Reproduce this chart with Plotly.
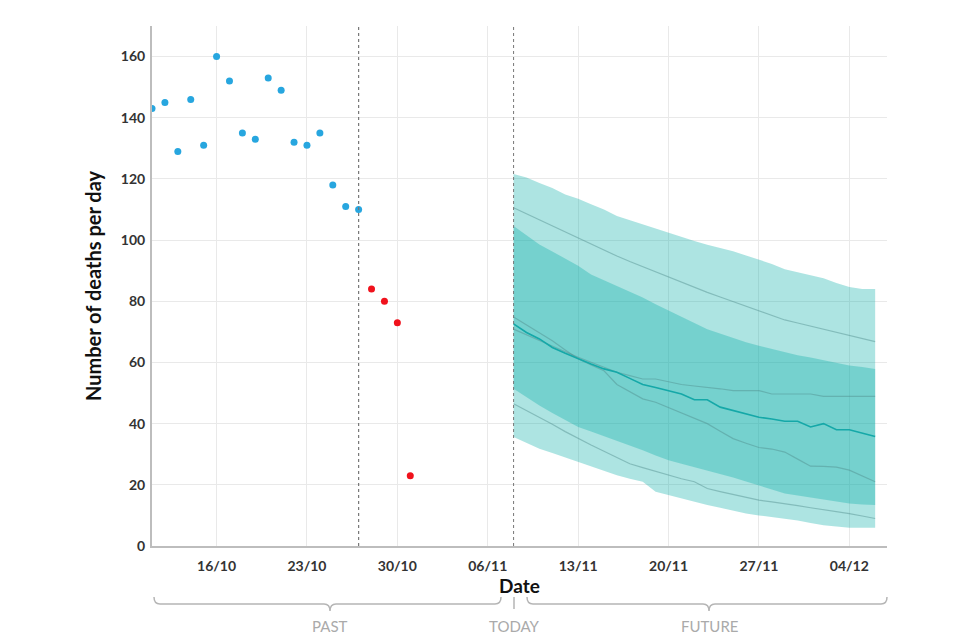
import pandas as pd
import plotly.graph_objects as go

# ---------------- data ----------------
observed_start = "2020-10-11"
observed_values = [143, 145, 129, 146, 131, 160, 152, 135, 133, 153, 149, 132, 131, 135, 118, 111, 110]
incomplete_start = "2020-10-28"
incomplete_values = [84, 80, 73, 23]

forecast_start = "2020-11-08"
outer_upper = [121.6, 120.5, 118.7, 117.0, 114.9, 113.5, 111.7, 110.0, 107.9, 106.5, 105.2, 103.8, 102.4, 101.0,
               99.7, 98.5, 97.5, 96.4, 95.0, 93.7, 92.2, 90.5, 89.5, 88.5, 87.5, 86.0, 84.7, 84.0, 84.0]
outer_lower = [35.6, 33.7, 31.8, 30.4, 28.9, 27.5, 26.0, 24.6, 23.1, 22.0, 21.0, 17.7, 16.6, 15.5,
               14.4, 13.4, 12.5, 11.5, 10.6, 10.0, 9.5, 9.0, 8.3, 7.5, 6.8, 6.4, 6.0, 6.0, 6.0]
inner_upper = [104.6, 101.6, 98.6, 96.3, 93.9, 91.6, 88.8, 86.9, 85.0, 83.1, 81.2, 79.0, 76.9, 74.9,
               72.9, 70.9, 69.5, 68.0, 66.6, 65.5, 64.4, 63.3, 62.4, 61.6, 60.7, 59.9, 59.0, 58.5, 57.9]
inner_lower = [51.4, 48.6, 45.9, 43.5, 41.2, 38.9, 37.4, 35.9, 34.5, 32.9, 31.3, 29.6, 28.0, 26.9,
               25.8, 24.8, 23.6, 22.4, 21.1, 19.9, 18.5, 17.2, 16.5, 15.8, 15.1, 14.5, 13.9, 13.6, 13.4]
line_upper = [110.6, 108.6, 106.6, 104.7, 102.7, 100.8, 98.8, 96.8, 94.8, 93.0, 91.3, 89.5, 87.8, 86.2,
              84.5, 82.9, 81.4, 79.9, 78.4, 76.9, 75.4, 73.9, 72.9, 71.9, 70.9, 69.8, 68.8, 67.8, 66.8]
line_lower = [46.5, 44.3, 42.1, 39.8, 37.4, 35.1, 33.0, 31.0, 28.9, 26.9, 25.6, 24.4, 23.1, 22.0,
              21.0, 18.8, 17.8, 16.9, 15.9, 15.0, 14.4, 13.9, 13.2, 12.5, 11.9, 11.2, 10.6, 9.8, 9.0]
line_a = [74.9, 72.3, 69.7, 67.1, 64.1, 61.2, 59.2, 57.3, 52.8, 50.4, 48.1, 47.0, 45.2, 43.4,
          41.6, 40.0, 37.5, 35.1, 33.6, 32.2, 31.7, 30.7, 28.4, 26.1, 26.0, 25.8, 24.8, 22.9, 21.0]
line_b = [70.9, 69.0, 67.2, 65.3, 63.5, 61.7, 60.1, 58.4, 56.8, 55.7, 54.6, 54.6, 53.7, 52.8,
          52.3, 51.9, 51.4, 50.8, 50.8, 50.8, 49.7, 49.7, 49.7, 49.7, 48.9, 48.9, 48.9, 48.9, 48.9]
median = [72.6, 69.8, 67.7, 64.9, 63.0, 61.2, 59.5, 57.9, 56.8, 54.8, 52.8, 51.8, 50.8, 49.7,
          47.8, 47.8, 45.4, 44.3, 43.2, 42.1, 41.5, 40.8, 40.8, 38.9, 40.0, 38.0, 38.0, 36.9, 35.8]

cutoff_date = "2020-10-27"
today_date = "2020-11-08"
x_range = ["2020-10-11", "2020-12-06 22:00"]
tick_start = "2020-10-16"
y_range = [0, 170]
section_labels = ["PAST", "TODAY", "FUTURE"]

# ---------------- build ----------------
obs_x = pd.date_range(observed_start, periods=len(observed_values), freq="D")
inc_x = pd.date_range(incomplete_start, periods=len(incomplete_values), freq="D")
fc_x = pd.date_range(forecast_start, periods=len(median), freq="D")

band = "rgba(0,170,165,0.32)"
grey_line = "rgba(80,140,140,0.45)"

fig = go.Figure()

def add_band(lo, hi):
    fig.add_trace(go.Scatter(x=fc_x, y=lo, mode="lines", line=dict(width=0), showlegend=False, hoverinfo="skip"))
    fig.add_trace(go.Scatter(x=fc_x, y=hi, mode="lines", line=dict(width=0), fill="tonexty",
                             fillcolor=band, showlegend=False, hoverinfo="skip"))

add_band(outer_lower, outer_upper)
add_band(inner_lower, inner_upper)

for series in (line_upper, line_lower, line_a, line_b):
    fig.add_trace(go.Scatter(x=fc_x, y=series, mode="lines", line=dict(color=grey_line, width=1.2),
                             showlegend=False))
fig.add_trace(go.Scatter(x=fc_x, y=median, mode="lines", line=dict(color="#15a8a8", width=1.6),
                         showlegend=False))

fig.add_trace(go.Scatter(x=obs_x, y=observed_values, mode="markers",
                         marker=dict(color="#27a6df", size=7), showlegend=False))
fig.add_trace(go.Scatter(x=inc_x, y=incomplete_values, mode="markers",
                         marker=dict(color="#f0121c", size=7), showlegend=False))

# vertical reference lines
fig.add_shape(type="line", xref="x", yref="paper", x0=cutoff_date, x1=cutoff_date, y0=0, y1=1,
              line=dict(color="#777", width=1.2, dash="dot"))
fig.add_shape(type="line", xref="x", yref="paper", x0=today_date, x1=today_date, y0=0, y1=1,
              line=dict(color="#777", width=1, dash="dot"))

# plot area in page pixels (page has an 8px body margin)
L, R, T, B = 152, 887, 26, 546
OFF = 8
def px(x):
    return (x - L) / (R - L)
def py(y):
    return (B - y) / (B - T)

def bracket(x0, x1, xc, ytop=597, yh=604, ybot=611, r=6):
    p = (f"M {px(x0)},{py(ytop)} Q {px(x0)},{py(yh)} {px(x0 + r)},{py(yh)} "
         f"L {px(xc - r)},{py(yh)} Q {px(xc)},{py(yh)} {px(xc)},{py(ybot)} "
         f"Q {px(xc)},{py(yh)} {px(xc + r)},{py(yh)} "
         f"L {px(x1 - r)},{py(yh)} Q {px(x1)},{py(yh)} {px(x1)},{py(ytop)}")
    fig.add_shape(type="path", xref="paper", yref="paper", path=p,
                  line=dict(color="#b5b5b5", width=1.5))

bracket(154, 501, 330)
bracket(527, 887, 709)
fig.add_shape(type="line", xref="paper", yref="paper", x0=px(514), x1=px(514), y0=py(597), y1=py(609),
              line=dict(color="#b5b5b5", width=1.5))

for lbl, xc in zip(section_labels, (330, 514, 709)):
    fig.add_annotation(text=lbl, xref="paper", yref="paper", x=px(xc), y=py(626), showarrow=False,
                       font=dict(family="Lato", size=15, color="#aaaaaa"), xanchor="center", yanchor="middle")

fig.update_layout(
    width=960, height=640,
    margin=dict(l=L - OFF, r=960 - R + OFF, t=T - OFF, b=640 - B + OFF),
    paper_bgcolor="white", plot_bgcolor="white",
    font=dict(family="Lato", color="#333"),
    showlegend=False,
)
fig.update_xaxes(
    range=x_range, type="date", tick0=tick_start, dtick=7 * 86400000, tickformat="%d/%m",
    showgrid=True, gridcolor="#e9e9e9", gridwidth=1,
    showline=True, linecolor="#bdbdbd", linewidth=2, ticks="", ticklabelstandoff=6,
    tickfont=dict(family="Lato", size=14, color="#333", weight="bold"),
    title=dict(text="<b>Date</b>", font=dict(family="Lato", size=19, color="#111"), standoff=6),
    zeroline=False,
)
fig.update_yaxes(
    range=y_range, dtick=20, showgrid=True, gridcolor="#e9e9e9", gridwidth=1,
    showline=True, linecolor="#bdbdbd", linewidth=2, ticks="", ticklabelstandoff=2,
    tickfont=dict(family="Lato", size=14, color="#333", weight="bold"),
    title=dict(text="<b>Number of deaths per day</b>", font=dict(family="Lato", size=20, color="#111"), standoff=14),
    zeroline=False,
)

fig.write_html("out.html")
